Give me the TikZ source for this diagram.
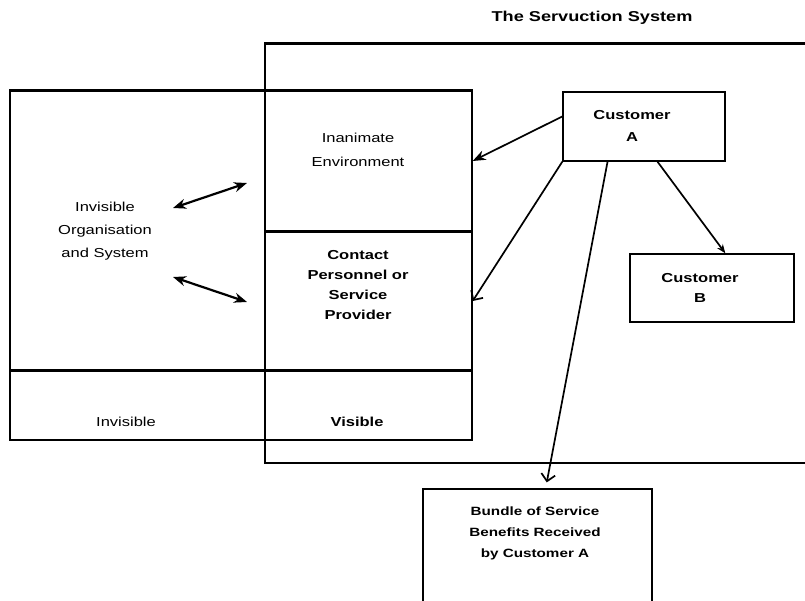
\documentclass[tikz,border=0pt]{standalone}
\usepackage{fontspec}
\setmainfont{Liberation Sans}[FakeStretch=1.27]
\usetikzlibrary{arrows.meta}

\begin{document}
\begin{tikzpicture}[x=1pt,y=-1pt,
  area/.style={draw, line width=1.4pt, inner sep=0pt},
  heavy/.style={line width=2.6pt},
  lbl/.style={align=center, inner sep=0pt, font=\fontsize{13}{#1}\selectfont},
  lbl/.default=21,
  blbl/.style={align=center, inner sep=0pt, font=\fontsize{13}{#1}\selectfont\bfseries},
  blbl/.default=21,
  link/.style={line width=1.7pt},
  both/.style={line width=2.2pt, {Stealth[length=13pt,width=10pt]}-{Stealth[length=13pt,width=10pt]}},
  filledtip/.style={-{Stealth[length=13pt,width=10pt]}},
  barbtip/.style={-{Straight Barb[length=7pt,width=14pt]}},
  smalltip/.style={-{Stealth[length=9pt,width=7pt]}}
]
\useasboundingbox (0,0) rectangle (805,601);

% title
\node[blbl, font=\fontsize{14.3}{18}\selectfont\bfseries] (title) at (592,18) {The Servuction System};

% the servuction frame, open past the right margin
\node[area, minimum width=550pt, minimum height=419pt] (servuction) at (540,253.5) {};
\draw[heavy] (servuction.north west) -- (servuction.north east);

% invisible / visible regions
\node[area, minimum width=255pt, minimum height=280pt] (org)     at (137.5,231)   {};
\node[area, minimum width=207pt, minimum height=140pt] (inan)    at (368.5,161)   {};
\node[area, minimum width=207pt, minimum height=140pt] (contact) at (368.5,301)   {};
\node[area, minimum width=255pt, minimum height=69pt]  (invis)   at (137.5,405.5) {};
\node[area, minimum width=207pt, minimum height=69pt]  (vis)     at (368.5,405.5) {};
\draw[heavy] (invis.north west) -- (vis.north east);
\draw[heavy, line width=1.9pt] (org.north west) -- (inan.north east);
\draw[heavy, line width=1.9pt] (inan.south west) -- (inan.south east);

% customers and outcome
\node[area, minimum width=162pt, minimum height=69pt]  (custA)  at (644,126.5) {};
\node[area, minimum width=164pt, minimum height=68pt]  (custB)  at (712,288)   {};
\node[area, minimum width=229pt, minimum height=131pt] (bundle) at (537.5,554.5) {};

% labels
\node[lbl=23]  (orgtxt)     at (105,231) {Invisible\\Organisation\\and System};
\node[lbl=24]  (inantxt)    at (358,150) {Inanimate\\Environment};
\node[blbl=20] (contacttxt) at (358,285) {Contact\\Personnel or\\Service\\Provider};
\node[lbl]     (invistxt)   at (126,422) {Invisible};
\node[blbl]    (vistxt)     at (357,422) {Visible};
\node[blbl=22] (custAtxt)   at (632,126) {Customer\\A};
\node[blbl=20] (custBtxt)   at (700,288) {Customer\\B};
\node[blbl=21, font=\fontsize{12}{21}\selectfont\bfseries] (bundletxt) at (535,533) {Bundle of Service\\Benefits Received\\by Customer A};

% interaction between the organisation and the visible part
\coordinate (d1a) at (173,208);
\coordinate (d1b) at (247,183);
\coordinate (d2a) at (173,277);
\coordinate (d2b) at (247,302);
\draw[both] (d1a) -- (d1b);
\draw[both] (d2a) -- (d2b);

% customer A's links
\draw[link, filledtip] (custA.173) -- (inan.east);
\draw[link, barbtip] (custA.south west) -- (contact.east);
\draw[link, barbtip, shorten >=6pt] (custA.224) -- (bundle.83);
\draw[link, smalltip] (custA.291) -- (custB.69);
\end{tikzpicture}
\end{document}
